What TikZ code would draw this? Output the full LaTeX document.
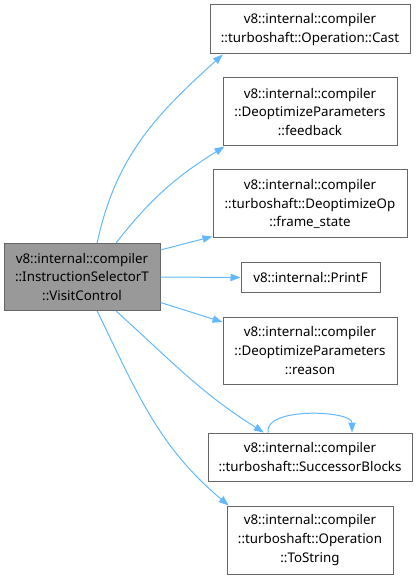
\documentclass[tikz,border=0pt]{standalone}
\usepackage{fontspec}
\setmainfont{Noto Sans}
\usetikzlibrary{arrows.meta,calc}
\definecolor{edgeblue}{HTML}{63B8FF}
\definecolor{boxgray}{HTML}{666666}
\definecolor{mainfill}{HTML}{999999}
\begin{document}
\begin{tikzpicture}[x=0.75pt,y=-0.75pt,
  box/.style={draw=boxgray,line width=0.75pt,rectangle,align=center,inner sep=0pt,
    font=\fontsize{10pt}{14pt}\selectfont},
  conn/.style={draw=edgeblue,line width=0.75pt,-{Triangle[length=7.5pt,width=5.5pt]}}]
\useasboundingbox (0,0) rectangle (417,580);
\node[box,fill=mainfill,minimum width=117pt,minimum height=50.25pt] (main) at (82,277)
  {v8::internal::compiler\\::InstructionSelectorT\\::VisitControl};
\node[box,minimum width=150pt,minimum height=36.75pt] (b1) at (310,29.5)
  {v8::internal::compiler\\::turboshaft::Operation::Cast};
\node[box,minimum width=130.5pt,minimum height=51pt] (b2) at (310,112)
  {v8::internal::compiler\\::DeoptimizeParameters\\::feedback};
\node[box,minimum width=145.5pt,minimum height=51pt] (b3) at (310,204)
  {v8::internal::compiler\\::turboshaft::DeoptimizeOp\\::frame\_state};
\node[box,minimum width=104.25pt,minimum height=21.75pt] (b4) at (310.5,277.5)
  {v8::internal::PrintF};
\node[box,minimum width=130.5pt,minimum height=50.25pt] (b5) at (310,350.5)
  {v8::internal::compiler\\::DeoptimizeParameters\\::reason};
\node[box,minimum width=153pt,minimum height=36pt] (b6) at (310,457)
  {v8::internal::compiler\\::turboshaft::SuccessorBlocks};
\node[box,minimum width=124.5pt,minimum height=51pt] (b7) at (310,540)
  {v8::internal::compiler\\::turboshaft::Operation\\::ToString};
\draw[conn] (main.66) to[out=78,in=222] (b1.196);
\draw[conn] (main.45) to[out=52,in=212] ($(b2.south west)+(2,0)$);
\draw[conn] (main.19) -- ($(b3.south west)+(0,-2)$);
\draw[conn] (main.east) -- (b4.west);
\draw[conn] (main.-18) -- (b5.162);
\draw[conn] (main.-45) to[out=-42,in=148] (b6.152);
\draw[conn] (main.-66) to[out=-64,in=140] (b7.157);
\draw[conn] ($(b6.north)+(-42,0)$) .. controls +(-4,-26) and +(0,-22) .. ($(b6.north)+(42,0)$);
\end{tikzpicture}
\end{document}
